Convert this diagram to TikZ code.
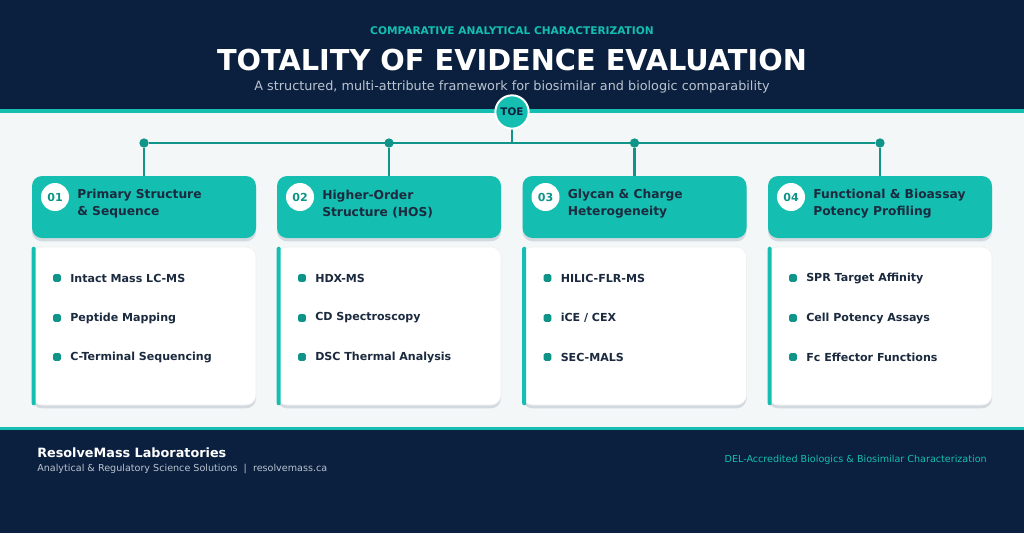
\documentclass[tikz,border=0pt]{standalone}
\usepackage{fontspec}
\setmainfont{DejaVu Sans}
\usetikzlibrary{positioning,shadows}

\definecolor{navy}{HTML}{0B1F3E}
\definecolor{tealc}{HTML}{14BFB1}
\definecolor{tealdark}{HTML}{0E9488}
\definecolor{pagebg}{HTML}{F3F7F8}
\definecolor{inkc}{HTML}{1B2A3F}
\definecolor{mutedc}{HTML}{B9C4D1}
\definecolor{shadowc}{HTML}{D3DADF}

\tikzset{
	headbox/.style={fill=tealc, rounded corners=7.5pt, minimum width=168pt, minimum height=46.5pt,
		drop shadow={shadow xshift=0pt, shadow yshift=-2.5pt, fill=shadowc, opacity=1}},
	bodybox/.style={fill=white, draw=black!6, rounded corners=7.5pt, minimum width=168pt, minimum height=118.5pt,
		drop shadow={shadow xshift=0pt, shadow yshift=-2.5pt, fill=shadowc, opacity=1}},
	numdot/.style={circle, fill=white, minimum size=21pt, inner sep=0pt, text=tealdark,
		font=\bfseries\fontsize{8.3}{9}\selectfont},
	headtext/.style={anchor=west, align=left, text=inkc, inner sep=0pt,
		font=\bfseries\fontsize{9.2}{12.8}\selectfont},
	bullet/.style={fill=tealdark, rounded corners=1.2pt, minimum size=5.8pt, inner sep=0pt},
	itemtext/.style={anchor=west, text=inkc, inner sep=0pt, font=\bfseries\fontsize{8.3}{9}\selectfont},
	hubdot/.style={circle, fill=tealdark, minimum size=7pt, inner sep=0pt},
	link/.style={tealdark, line width=2.2pt}
}

\begin{document}
\begin{tikzpicture}[x=0.75pt, y=-0.75pt]
	\useasboundingbox (0,0) rectangle (1024,533);

	%bands
	\fill [pagebg] (0,0) rectangle (1024,533);
	\fill [navy] (0,0) rectangle (1024,110);
	\fill [tealc] (0,109) rectangle (1024,113);
	\fill [navy] (0,429) rectangle (1024,533);
	\fill [tealc] (0,427) rectangle (1024,430);

	%titles
	\node [text=tealc, font=\bfseries\fontsize{7.95}{9}\selectfont] (kicker) at (512,31) {COMPARATIVE ANALYTICAL CHARACTERIZATION};
	\node [text=white, font=\bfseries\fontsize{21.6}{24}\selectfont] (title) at (512,60) {TOTALITY OF EVIDENCE EVALUATION};
	\node [text=mutedc, font=\fontsize{9.6}{11}\selectfont] (subtitle) at (512,87) {A structured, multi-attribute framework for biosimilar and biologic comparability};

	%hub
	\coordinate (hub) at (512,143);
	\foreach \i/\x in {1/144, 2/389, 3/634.5, 4/880}
		\node [hubdot] (dot\i) at (\x,143) {};
	\draw [link] (dot1) -- (dot4);
	\draw [link] (512,112) -- (hub);
	\node [circle, fill=tealc, draw=white, line width=1.5pt, minimum size=25pt, inner sep=0pt,
		text=navy, font=\bfseries\fontsize{7.8}{9}\selectfont] (toe) at (512,112) {TOE};

	%columns
	\foreach \i/\x/\tA/\tB in {
		1/144/Primary Structure/\& Sequence,
		2/389/Higher-Order/Structure (HOS),
		3/634.5/Glycan \& Charge/Heterogeneity,
		4/880/Functional \& Bioassay/Potency Profiling
	}{
		\node [headbox] (head\i) at (\x,207) {};
		\draw [link] (dot\i) -- (head\i.north);
		\node [numdot] (num\i) at (\x-89,197) {0\i};
		\node [headtext] (htext\i) at (\x-67,204) {\tA\\\tB};
		\node [bodybox] (body\i) at (\x,326) {};
		\fill [tealc, rounded corners=1.5pt] (body\i.north west) rectangle ([xshift=3pt]body\i.south west);
	}

	%items
	\foreach \i/\x/\a/\b/\c in {
		1/144/Intact Mass LC-MS/Peptide Mapping/C-Terminal Sequencing,
		2/389/HDX-MS/CD Spectroscopy/DSC Thermal Analysis,
		3/634.5/HILIC-FLR-MS/{iCE / CEX}/SEC-MALS,
		4/880/SPR Target Affinity/Cell Potency Assays/Fc Effector Functions
	}{
		\node [bullet] (b\i a) at (\x-87,278) {};
		\node [itemtext] (t\i a) at (\x-74,278) {\a};
		\node [bullet] (b\i b) at (\x-87,318) {};
		\node [itemtext] (t\i b) at (\x-74,318) {\b};
		\node [bullet] (b\i c) at (\x-87,357) {};
		\node [itemtext] (t\i c) at (\x-74,357) {\c};
	}

	%footer
	\node [anchor=west, inner sep=0pt, text=white, font=\bfseries\fontsize{9.6}{11}\selectfont] (lab) at (37,453) {ResolveMass Laboratories};
	\node [anchor=west, inner sep=0pt, text=mutedc, font=\fontsize{7.2}{8}\selectfont] (tag) at (37,469) {Analytical \& Regulatory Science Solutions~~|~~resolvemass.ca};
	\node [anchor=east, inner sep=0pt, text=tealc, font=\fontsize{7.2}{8}\selectfont] (accr) at (987,460) {DEL-Accredited Biologics \& Biosimilar Characterization};
\end{tikzpicture}
\end{document}
